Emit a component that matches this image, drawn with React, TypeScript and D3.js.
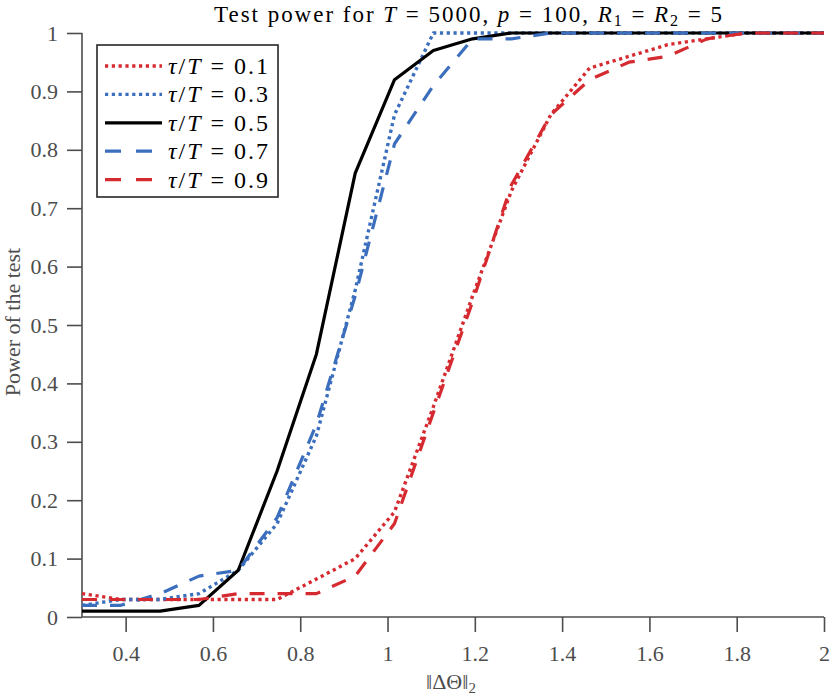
import { useEffect, useRef } from "react";
import * as d3 from "d3";

// x samples: ||ΔΘ||_2
const deltaNorm = [0.3, 0.389, 0.479, 0.568, 0.658, 0.747, 0.837, 0.926, 1.016, 1.105, 1.195, 1.284, 1.374, 1.463, 1.553, 1.642, 1.732, 1.821, 1.911, 2.0];

// power of the test per change-point location tau/T
const power01 = [0.04, 0.03, 0.03, 0.03, 0.03, 0.03, 0.065, 0.1, 0.18, 0.36, 0.55, 0.73, 0.86, 0.94, 0.96, 0.98, 0.99, 1, 1, 1];
const power03 = [0.02, 0.03, 0.03, 0.04, 0.08, 0.16, 0.31, 0.56, 0.86, 1, 1, 1, 1, 1, 1, 1, 1, 1, 1, 1];
const power05 = [0.01, 0.01, 0.01, 0.02, 0.08, 0.25, 0.45, 0.76, 0.92, 0.97, 0.99, 1, 1, 1, 1, 1, 1, 1, 1, 1];
const power07 = [0.02, 0.02, 0.04, 0.07, 0.08, 0.17, 0.33, 0.55, 0.81, 0.91, 0.99, 0.99, 1, 1, 1, 1, 1, 1, 1, 1];
const power09 = [0.03, 0.03, 0.03, 0.03, 0.04, 0.04, 0.04, 0.07, 0.16, 0.35, 0.54, 0.74, 0.86, 0.92, 0.95, 0.96, 0.99, 1, 1, 1];

const ratios = ["0.1", "0.3", "0.5", "0.7", "0.9"];
const xTicks = [0.4, 0.6, 0.8, 1, 1.2, 1.4, 1.6, 1.8, 2];
const yTicks = [0, 0.1, 0.2, 0.3, 0.4, 0.5, 0.6, 0.7, 0.8, 0.9, 1];

const RED = "#d62a31";
const BLUE = "#3b6ebd";
const BLACK = "#000000";
const DOTTED = "3.2,3.6";
const DASHED = "15,13";

const seriesStyles = [
  { values: power01, color: RED, dash: DOTTED },
  { values: power03, color: BLUE, dash: DOTTED },
  { values: power05, color: BLACK, dash: null },
  { values: power07, color: BLUE, dash: DASHED },
  { values: power09, color: RED, dash: DASHED },
];

const FONT = "'Liberation Serif', 'Times New Roman', serif";
const AXIS = "#4d4d4d";

export default function App() {
  const svgRef = useRef<SVGSVGElement>(null);

  useEffect(() => {
    if (!svgRef.current) return;
    document.body.style.margin = "0";

    const width = 830;
    const height = 695;
    const margin = { top: 33, right: 6, bottom: 78, left: 82 };

    const svg = d3.select(svgRef.current);
    svg.selectAll("*").remove();
    svg.attr("width", width).attr("height", height).style("background", "#fff").style("display", "block");

    const x = d3.scaleLinear().domain([0.3, 2]).range([margin.left, width - margin.right]);
    const y = d3.scaleLinear().domain([0, 1]).range([height - margin.bottom, margin.top]);

    // Axes (no box, outward ticks)
    const xAxis = svg.append("g")
      .attr("transform", `translate(0,${y(0)})`)
      .call(d3.axisBottom(x).tickValues(xTicks).tickSize(15).tickPadding(13).tickFormat((d) => `${+d}`));
    const yAxis = svg.append("g")
      .attr("transform", `translate(${x(0.3)},0)`)
      .call(d3.axisLeft(y).tickValues(yTicks).tickSize(15).tickPadding(9).tickFormat((d) => `${+d}`));

    [xAxis, yAxis].forEach((g) => {
      g.select(".domain").attr("stroke", AXIS).attr("stroke-width", 1.6);
      g.selectAll(".tick line").attr("stroke", AXIS).attr("stroke-width", 1.6);
      g.selectAll(".tick text").attr("fill", AXIS).attr("font-size", "22px").attr("font-family", FONT);
    });
    xAxis.select(".domain").attr("d", `M${x(0.3)},0H${x(2)}`);
    yAxis.select(".domain").attr("d", `M0,${y(0)}V${y(1)}`);

    // Lines
    const line = d3.line<number>()
      .x((_, i) => x(deltaNorm[i]))
      .y((d) => y(d));

    seriesStyles.forEach((s) => {
      svg.append("path")
        .datum(s.values)
        .attr("fill", "none")
        .attr("stroke", s.color)
        .attr("stroke-width", s.dash === DOTTED ? 3.4 : 3.2)
        .attr("stroke-dasharray", s.dash ?? null)
        .attr("stroke-linejoin", "round")
        .attr("d", line);
    });

    // Title
    const title = svg.append("text")
      .attr("x", 468).attr("y", 22)
      .attr("text-anchor", "middle")
      .attr("textLength", 508).attr("lengthAdjust", "spacing")
      .attr("font-family", FONT).attr("font-size", "23px").attr("fill", "#000");
    title.append("tspan").text("Test power for ");
    title.append("tspan").attr("font-style", "italic").text("T");
    title.append("tspan").text(" = 5000, ");
    title.append("tspan").attr("font-style", "italic").text("p");
    title.append("tspan").text(" = 100, ");
    title.append("tspan").attr("font-style", "italic").text("R");
    title.append("tspan").attr("font-size", "16px").attr("dy", 4).text("1");
    title.append("tspan").attr("dy", -4).text(" = ");
    title.append("tspan").attr("font-style", "italic").text("R");
    title.append("tspan").attr("font-size", "16px").attr("dy", 4).text("2");
    title.append("tspan").attr("dy", -4).text(" = 5");

    // X label
    const xl = svg.append("text")
      .attr("x", (x(0.3) + x(2)) / 2 - 2).attr("y", 689)
      .attr("text-anchor", "middle")
      .attr("font-family", FONT).attr("font-size", "22px").attr("fill", AXIS);
    xl.append("tspan").text("\u2016\u0394\u0398\u2016");
    xl.append("tspan").attr("font-size", "15px").attr("dy", 4).text("2");

    // Y label
    svg.append("text")
      .attr("transform", `translate(20,${(y(0) + y(1)) / 2 - 3}) rotate(-90)`)
      .attr("text-anchor", "middle")
      .attr("font-family", FONT).attr("font-size", "22px").attr("fill", AXIS)
      .text("Power of the test");

    // Legend
    const lg = svg.append("g");
    const lx = 97, ly = 45, rowH = 28.4;
    lg.append("rect")
      .attr("x", lx).attr("y", ly).attr("width", 181).attr("height", 152)
      .attr("fill", "#fff").attr("stroke", "#262626").attr("stroke-width", 1.6);
    seriesStyles.forEach((s, i) => {
      const cy = ly + 21 + i * rowH;
      lg.append("line")
        .attr("x1", lx + 8).attr("x2", lx + 65)
        .attr("y1", cy).attr("y2", cy)
        .attr("stroke", s.color)
        .attr("stroke-width", s.dash === DOTTED ? 3.4 : 3.2)
        .attr("stroke-dasharray", s.dash === DASHED ? "16,15" : s.dash ?? null);
      const t = lg.append("text")
        .attr("x", lx + 71).attr("y", cy + 8)
        .attr("textLength", 100).attr("lengthAdjust", "spacing")
        .attr("font-family", FONT).attr("font-size", "24px").attr("fill", "#000");
      t.append("tspan").attr("font-style", "italic").text("\u03c4");
      t.append("tspan").text("/");
      t.append("tspan").attr("font-style", "italic").text("T");
      t.append("tspan").text(` = ${ratios[i]}`);
    });
  }, []);

  return <svg ref={svgRef} />;
}
